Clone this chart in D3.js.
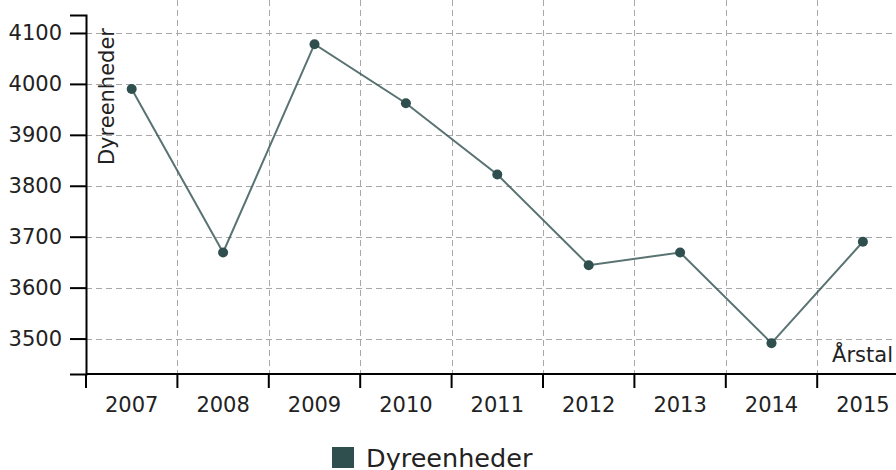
<!DOCTYPE html>
<html>
<head>
<meta charset="utf-8">
<script src="https://cdn.jsdelivr.net/npm/d3@7"></script>
<style>
  html, body { margin: 0; padding: 0; background: #fff; }
  svg { display: block; font-family: "DejaVu Sans", Verdana, sans-serif; }
</style>
</head>
<body>
<svg id="chart" width="896" height="470"></svg>
<script>
const years = ["2007", "2008", "2009", "2010", "2011", "2012", "2013", "2014", "2015"];
const dyreenheder = [3990, 3669, 4078, 3962, 3822, 3644, 3669, 3491, 3690];
const yTicks = [3500, 3600, 3700, 3800, 3900, 4000, 4100];
const seriesName = "Dyreenheder";
const xTitle = "Årstal";

const svg = d3.select("#chart");
const W = 896;
const mLeft = 86, mTop = 15, mBottom = 374;

const x = d3.scaleBand().domain(years).range([mLeft, mLeft + 9 * 91.4]).padding(0);
const y = d3.scaleLinear().domain([3430.4, 4135.3]).range([mBottom, mTop]);

// grid
const grid = svg.append("g").attr("stroke", "#a8a8a8").attr("stroke-width", 1).attr("stroke-dasharray", "6,4");
grid.selectAll("line.h").data(yTicks).join("line").attr("class", "h")
  .attr("x1", mLeft).attr("x2", W)
  .attr("y1", d => Math.round(y(d)) + 0.5).attr("y2", d => Math.round(y(d)) + 0.5);
grid.selectAll("line.v").data(years.slice(1)).join("line").attr("class", "v")
  .attr("x1", d => Math.round(x(d)) + 0.5).attr("x2", d => Math.round(x(d)) + 0.5)
  .attr("y1", 0).attr("y2", mBottom);

// y axis
const yAxis = svg.append("g").attr("transform", `translate(${mLeft},0)`)
  .call(d3.axisLeft(y).tickValues(yTicks).tickFormat(d3.format("d")).tickSize(16).tickPadding(8));
// x axis labels
const xAxis = svg.append("g").attr("transform", `translate(0,${mBottom})`)
  .call(d3.axisBottom(x).tickSize(0).tickPadding(23));
xAxis.selectAll(".tick line").remove();
xAxis.append("g").selectAll("line").data(years).join("line")
  .attr("x1", d => x(d)).attr("x2", d => x(d)).attr("y1", 0).attr("y2", 14)
  .attr("stroke", "#000").attr("stroke-width", 2);
xAxis.select(".domain").attr("d", `M${mLeft},0H${mLeft + 9 * 91.4}`);

[yAxis, xAxis].forEach(g => {
  g.select(".domain").attr("stroke", "#000").attr("stroke-width", 2);
  g.selectAll(".tick line").attr("stroke", "#000").attr("stroke-width", 2);
  g.selectAll(".tick text").attr("font-size", 21).attr("font-family", "DejaVu Sans").attr("fill", "#222");
});

// axis titles
svg.append("text").attr("transform", "translate(114,28) rotate(-90)")
  .attr("text-anchor", "end").attr("font-size", 21).attr("fill", "#222").text(seriesName);
svg.append("text").attr("x", 893).attr("y", 362)
  .attr("text-anchor", "end").attr("font-size", 21).attr("fill", "#222").text(xTitle);

// line
const line = d3.line().x((d, i) => x(years[i]) + x.bandwidth() / 2).y(d => y(d));
svg.append("path").datum(dyreenheder).attr("d", line)
  .attr("fill", "none").attr("stroke", "#2f4f4f").attr("stroke-opacity", 0.8).attr("stroke-width", 2);
svg.selectAll("circle.pt").data(dyreenheder).join("circle").attr("class", "pt")
  .attr("cx", (d, i) => x(years[i]) + x.bandwidth() / 2).attr("cy", d => y(d))
  .attr("r", 5).attr("fill", "#2f4f4f");

// legend
const lg = svg.append("g");
lg.append("rect").attr("x", 332).attr("y", 447).attr("width", 22).attr("height", 21).attr("fill", "#2f4f4f");
lg.append("text").attr("x", 366).attr("y", 467).attr("font-size", 25.5).attr("fill", "#222").text(seriesName);
</script>
</body>
</html>
